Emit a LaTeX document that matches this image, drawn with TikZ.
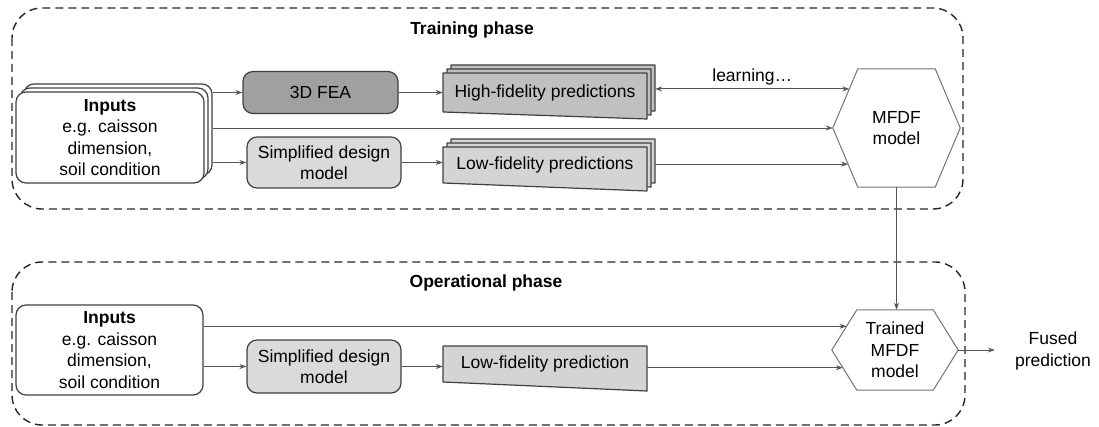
\documentclass[tikz,border=0pt]{standalone}
\usepackage{fontspec}
\setmainfont{Liberation Sans}
\usetikzlibrary{calc,arrows.meta}

\definecolor{feagray}{HTML}{A0A0A0}
\definecolor{hfgray}{HTML}{C0C0C0}
\definecolor{lfgray}{HTML}{D4D4D4}
\definecolor{simpgray}{HTML}{DADADA}
\definecolor{edgegray}{HTML}{404040}
\definecolor{linegray}{HTML}{555555}

\begin{document}
\begin{tikzpicture}[
        x=1pt, y=-1pt,
        every node/.style={font=\fontsize{17.5}{21.5}\selectfont, align=center},
        box/.style={rectangle, rounded corners=10pt, draw=edgegray, line width=1.2pt, inner sep=2pt},
        doc/.style={draw=edgegray, line width=1.2pt, line join=round},
        hexa/.style={draw=black!55, line width=1pt},
        phase/.style={draw=black!85, line width=1.4pt, dash pattern=on 8pt off 5pt, rounded corners=30pt},
        arrow/.style={->, >={Stealth[length=7pt, width=5pt]}, line width=0.9pt, draw=linegray}
    ]
        \useasboundingbox (0,0) rectangle (1099,427);

        % Phase frames
        \draw[phase] (12,8) rectangle (963,209);
        \draw[phase] (12,262) rectangle (965,425);
        \node[font=\fontsize{17.5}{21.5}\selectfont\bfseries] (ttrain) at (472,30) {Training phase};
        \node[font=\fontsize{17.5}{21.5}\selectfont\bfseries] (toper) at (486,283) {Operational phase};

        % Training inputs (stack of cases)
        \foreach \s in {8,4}
            \draw[box, fill=white] (16+\s,92-\s) rectangle (204+\s,183-\s);
        \node[box, fill=white, minimum width=188pt, minimum height=91pt] (in1) at (110,137.5)
            {\textbf{Inputs}\\e.g. caisson\\dimension,\\soil condition};
        \coordinate (in1back) at ([xshift=8pt]in1.east);

        % Models
        \node[box, fill=feagray, minimum width=155pt, minimum height=42pt] (fea) at (320.5,92.5) {3D FEA};
        \node[box, fill=simpgray, minimum width=154pt, minimum height=51pt] (simp) at (324,162.5) {Simplified design\\model};

        % High-fidelity outputs (three sheets)
        \foreach \s in {8,4,0}
            \draw[doc, fill=hfgray] (443+\s,73-\s) -- (647+\s,73-\s) -- (647+\s,119-\s) -- (443+\s,112-\s) -- cycle;
        \node[minimum width=204pt, minimum height=39pt] (hf) at (545,92.5) {High-fidelity predictions};
        \coordinate (hfback) at ([xshift=8pt]hf.east);

        % Low-fidelity outputs (three sheets)
        \foreach \s in {8,4,0}
            \draw[doc, fill=lfgray] (443+\s,147-\s) -- (647+\s,147-\s) -- (647+\s,191-\s) -- (443+\s,183-\s) -- cycle;
        \node[minimum width=204pt, minimum height=36pt] (lf) at (545,165) {Low-fidelity predictions};
        \coordinate (lfback) at ([xshift=8pt]lf.east);

        % MFDF model (hexagon)
        \node[minimum width=127pt, minimum height=118pt] (mfdf) at (896.5,128) {MFDF\\model};
        \draw[hexa] (mfdf.west) -- ([xshift=25pt]mfdf.north west) -- ([xshift=-25pt]mfdf.north east)
            -- (mfdf.east) -- ([xshift=-25pt]mfdf.south east) -- ([xshift=25pt]mfdf.south west) -- cycle;
        \coordinate (learnpt) at ($(mfdf.west)!0.66!([xshift=25pt]mfdf.north west)$);
        \coordinate (lfpt) at ($(mfdf.west)!0.61!([xshift=25pt]mfdf.south west)$);

        % Training connections
        \draw[arrow] (in1back |- fea.west) -- (fea.west);
        \draw[arrow] (in1back |- simp.west) -- (simp.west);
        \draw[arrow] (in1back |- mfdf.west) -- (mfdf.west);
        \draw[arrow] (fea.east) -- (hf.west);
        \draw[arrow] (simp.east) -- (simp.east -| lf.west);
        \draw[arrow, <->] (hfback |- learnpt) -- node[above] (learn) {learning…} (learnpt);
        \draw[arrow] (lfback |- lfpt) -- (lfpt);

        % Operational inputs and models
        \node[box, fill=white, minimum width=187pt, minimum height=90pt] (in2) at (109.5,350)
            {\textbf{Inputs}\\e.g. caisson\\dimension,\\soil condition};
        \node[box, fill=simpgray, minimum width=154pt, minimum height=53pt] (simp2) at (324,366.5) {Simplified design\\model};
        \draw[doc, fill=lfgray] (443,346) -- (647,346) -- (647,391) -- (443,382) -- cycle;
        \node[minimum width=204pt, minimum height=36pt] (lf2) at (545,364) {Low-fidelity prediction};

        % Trained MFDF model (flatter hexagon)
        \node[minimum width=126pt, minimum height=80pt] (tmfdf) at (895,350) {Trained\\MFDF\\model};
        \draw[hexa] (tmfdf.west) -- ([xshift=25pt]tmfdf.north west) -- ([xshift=-25pt]tmfdf.north east)
            -- (tmfdf.east) -- ([xshift=-25pt]tmfdf.south east) -- ([xshift=25pt]tmfdf.south west) -- cycle;
        \coordinate (inpt) at ($(tmfdf.west)!0.59!([xshift=25pt]tmfdf.north west)$);
        \coordinate (lf2pt) at ($(tmfdf.west)!0.44!([xshift=25pt]tmfdf.south west)$);

        \node[inner xsep=20pt] (fused) at (1053,351) {Fused\\prediction};

        % Operational connections
        \draw[arrow] (in2.east |- inpt) -- (inpt);
        \draw[arrow] (in2.east |- simp2.west) -- (simp2.west);
        \draw[arrow] (simp2.east) -- (simp2.east -| lf2.west);
        \draw[arrow] (lf2.east |- lf2pt) -- (lf2pt);
        \draw[arrow] (tmfdf.east) -- (tmfdf.east -| fused.west);

        % Trained model handed over
        \draw[arrow] (mfdf.south) -- (mfdf.south |- tmfdf.north);
    \end{tikzpicture}
\end{document}
